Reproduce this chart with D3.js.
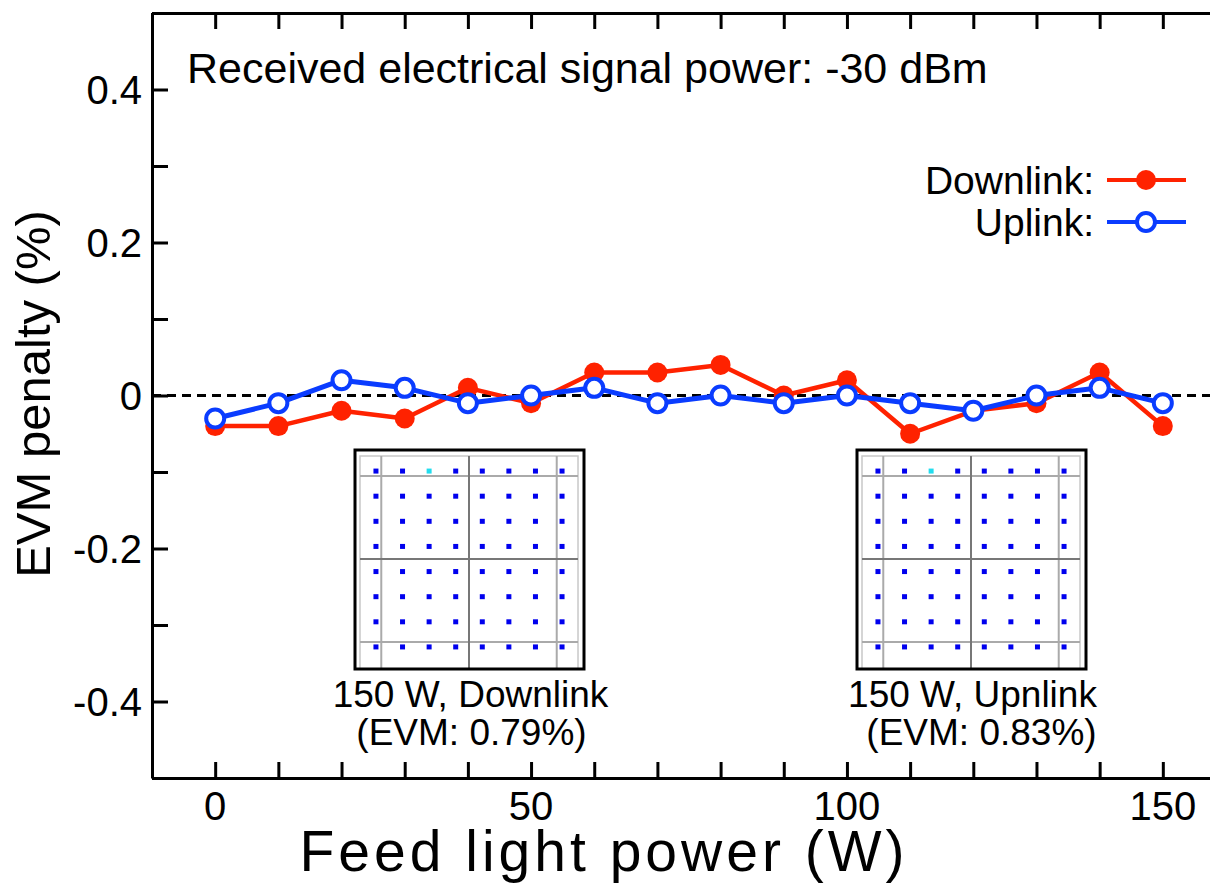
<!DOCTYPE html>
<html>
<head>
<meta charset="utf-8">
<script src="https://cdn.jsdelivr.net/npm/d3@7"></script>
<style>
  body { margin: 0; background: #fff; }
  svg { display: block; font-family: "Liberation Sans", Arial, sans-serif; }
</style>
</head>
<body>
<div id="chartContainer"></div>
<script>
const feedPower = [0, 10, 20, 30, 40, 50, 60, 70, 80, 90, 100, 110, 120, 130, 140, 150];
const downlink = [-0.04, -0.04, -0.02, -0.03, 0.01, -0.01, 0.03, 0.03, 0.04, 0.0, 0.02, -0.05, -0.02, -0.01, 0.03, -0.04];
const uplink = [-0.03, -0.01, 0.02, 0.01, -0.01, 0.0, 0.01, -0.01, 0.0, -0.01, 0.0, -0.01, -0.02, 0.0, 0.01, -0.01];
const xTicks = [-10, 0, 10, 20, 30, 40, 50, 60, 70, 80, 90, 100, 110, 120, 130, 140, 150, 160];
const xLabels = [0, 50, 100, 150];
const yTicks = [-0.5, -0.4, -0.3, -0.2, -0.1, 0, 0.1, 0.2, 0.3, 0.4, 0.5];
const yLabels = [-0.4, -0.2, 0, 0.2, 0.4];
const qamLevels = [-7, -5, -3, -1, 1, 3, 5, 7];
const insets = [
  { name: "150 W, Downlink", evm: "(EVM: 0.79%)" },
  { name: "150 W, Upnlink", evm: "(EVM: 0.83%)" }
];

const width = 1210;
const height = 884;
const marginLeft = 152;
const marginTop = 13;
const plotBottom = 778;
const plotRight = 1226;

const red = "#ff2200";
const blue = "#0a3cff";

const x = d3.scaleLinear().domain([-10, 160]).range([marginLeft, plotRight]);
const y = d3.scaleLinear().domain([-0.5, 0.5]).range([plotBottom, marginTop]);

const svg = d3.create("svg")
  .attr("width", width)
  .attr("height", height)
  .attr("viewBox", [0, 0, width, height]);
document.getElementById("chartContainer").appendChild(svg.node());

// axes, ticks pointing inward
const fmtY = d => d === 0 ? "0" : d.toFixed(1);

svg.append("g")
  .attr("transform", `translate(0,${plotBottom})`)
  .call(d3.axisTop(x).tickValues(xTicks).tickSize(16).tickSizeOuter(0).tickFormat(""))
  .call(g => g.selectAll("line, path").attr("stroke", "#000").attr("stroke-width", 3));

svg.append("g")
  .attr("transform", `translate(0,${marginTop})`)
  .call(d3.axisBottom(x).tickValues(xTicks).tickSize(16).tickSizeOuter(0).tickFormat(""))
  .call(g => g.selectAll("line, path").attr("stroke", "#000").attr("stroke-width", 3));

svg.append("g")
  .attr("transform", `translate(${marginLeft},0)`)
  .call(d3.axisRight(y).tickValues(yTicks).tickSize(16).tickSizeOuter(0).tickFormat(""))
  .call(g => g.selectAll("line, path").attr("stroke", "#000").attr("stroke-width", 3));

// tick labels
svg.append("g")
  .attr("font-size", 40)
  .attr("text-anchor", "middle")
  .selectAll("text")
  .data(xLabels)
  .join("text")
  .attr("x", d => x(d))
  .attr("y", plotBottom + 42)
  .text(d => d);

svg.append("g")
  .attr("font-size", 40)
  .attr("text-anchor", "end")
  .selectAll("text")
  .data(yLabels)
  .join("text")
  .attr("x", marginLeft - 10)
  .attr("y", d => y(d))
  .attr("dy", "0.36em")
  .text(fmtY);

// axis titles
svg.append("text")
  .attr("x", 604)
  .attr("y", 871)
  .attr("text-anchor", "middle")
  .attr("font-size", 57)
  .attr("letter-spacing", 4)
  .text("Feed light power (W)");

svg.append("text")
  .attr("transform", `translate(50,394) rotate(-90)`)
  .attr("text-anchor", "middle")
  .attr("font-size", 49)
  .text("EVM penalty (%)");

// zero reference line
svg.append("line")
  .attr("x1", marginLeft).attr("x2", width)
  .attr("y1", y(0)).attr("y2", y(0))
  .attr("stroke", "#000")
  .attr("stroke-width", 3)
  .attr("stroke-dasharray", "9,6");

// note
svg.append("text")
  .attr("x", 187)
  .attr("y", 83)
  .attr("font-size", 43)
  .text("Received electrical signal power: -30 dBm");

// insets with 64-QAM constellations
const qamPoints = [];
qamLevels.forEach(q => qamLevels.forEach(i => qamPoints.push({ i, q })));

const insetBoxes = [[355, 450], [857, 450]];
insets.forEach((inset, k) => {
  const [bx, by] = insetBoxes[k];
  const bw = 229, bh = 219;
  const ix = d3.scaleLinear().domain([-8.2, 8.2]).range([bx + 5, bx + bw - 6]);
  const iy = d3.scaleLinear().domain([-8.2, 8.2]).range([by + 212, by + 6]);
  const g = svg.append("g");
  g.append("rect")
    .attr("x", bx).attr("y", by).attr("width", bw).attr("height", bh)
    .attr("fill", "#fff");
  g.append("rect")
    .attr("x", ix(-8.2)).attr("y", iy(8.2))
    .attr("width", ix(8.2) - ix(-8.2)).attr("height", by + bh - iy(8.2))
    .attr("fill", "none").attr("stroke", "#c8c8c8").attr("stroke-width", 1.5);
  [-6.6, 6.6].forEach(v => {
    g.append("line").attr("x1", ix(v)).attr("x2", ix(v)).attr("y1", iy(8.2)).attr("y2", by + bh)
      .attr("stroke", "#aaa").attr("stroke-width", 2);
    g.append("line").attr("x1", ix(-8.2)).attr("x2", ix(8.2)).attr("y1", iy(v)).attr("y2", iy(v))
      .attr("stroke", "#aaa").attr("stroke-width", 2);
  });
  g.append("line").attr("x1", ix(0)).attr("x2", ix(0)).attr("y1", iy(8.2)).attr("y2", by + bh)
    .attr("stroke", "#777").attr("stroke-width", 2);
  g.append("line").attr("x1", ix(-8.2)).attr("x2", ix(8.2)).attr("y1", iy(0)).attr("y2", iy(0))
    .attr("stroke", "#777").attr("stroke-width", 2);
  g.selectAll("rect.pt")
    .data(qamPoints)
    .join("rect")
    .attr("class", "pt")
    .attr("x", d => ix(d.i) - 2.5)
    .attr("y", d => iy(d.q) - 2.5)
    .attr("width", 5)
    .attr("height", 5)
    .attr("fill", d => (d.q === 7 && d.i === -3) ? "#22ddee" : "#0000ee");
  g.append("rect")
    .attr("x", bx).attr("y", by).attr("width", bw).attr("height", bh)
    .attr("fill", "none").attr("stroke", "#000").attr("stroke-width", 3);
  g.append("text")
    .attr("x", bx + bw / 2 + 1).attr("y", 707)
    .attr("text-anchor", "middle").attr("font-size", 37)
    .text(inset.name);
  g.append("text")
    .attr("x", bx + bw / 2 + (k === 0 ? 2 : 10)).attr("y", 745)
    .attr("text-anchor", "middle").attr("font-size", 37)
    .text(inset.evm);
});

// series
const series = [
  { values: downlink, color: red, filled: true, lw: 4.5, r: 10 },
  { values: uplink, color: blue, filled: false, lw: 5, r: 9 }
];

series.forEach(s => {
  const pts = feedPower.map((p, i) => [p, s.values[i]]);
  svg.append("path")
    .datum(pts)
    .attr("fill", "none")
    .attr("stroke", s.color)
    .attr("stroke-width", s.lw)
    .attr("stroke-linejoin", "round")
    .attr("d", d3.line().x(d => x(d[0])).y(d => y(d[1])));
  svg.append("g")
    .selectAll("circle")
    .data(pts)
    .join("circle")
    .attr("cx", d => x(d[0]))
    .attr("cy", d => y(d[1]))
    .attr("r", s.r)
    .attr("fill", s.filled ? s.color : "#fff")
    .attr("stroke", s.filled ? "none" : s.color)
    .attr("stroke-width", s.filled ? 0 : 4);
});

// legend
const legend = [
  { label: "Downlink:", color: red, filled: true, y: 180 },
  { label: "Uplink:", color: blue, filled: false, y: 222 }
];
const lg = svg.append("g");
legend.forEach(l => {
  lg.append("text")
    .attr("x", 1094).attr("y", l.y).attr("dy", "0.35em")
    .attr("text-anchor", "end").attr("font-size", 39)
    .text(l.label);
  lg.append("line")
    .attr("x1", 1107).attr("x2", 1186).attr("y1", l.y).attr("y2", l.y)
    .attr("stroke", l.color).attr("stroke-width", 4);
  lg.append("circle")
    .attr("cx", 1146).attr("cy", l.y)
    .attr("r", l.filled ? 10 : 9)
    .attr("fill", l.filled ? l.color : "#fff")
    .attr("stroke", l.filled ? "none" : l.color)
    .attr("stroke-width", l.filled ? 0 : 4);
});
</script>
</body>
</html>
